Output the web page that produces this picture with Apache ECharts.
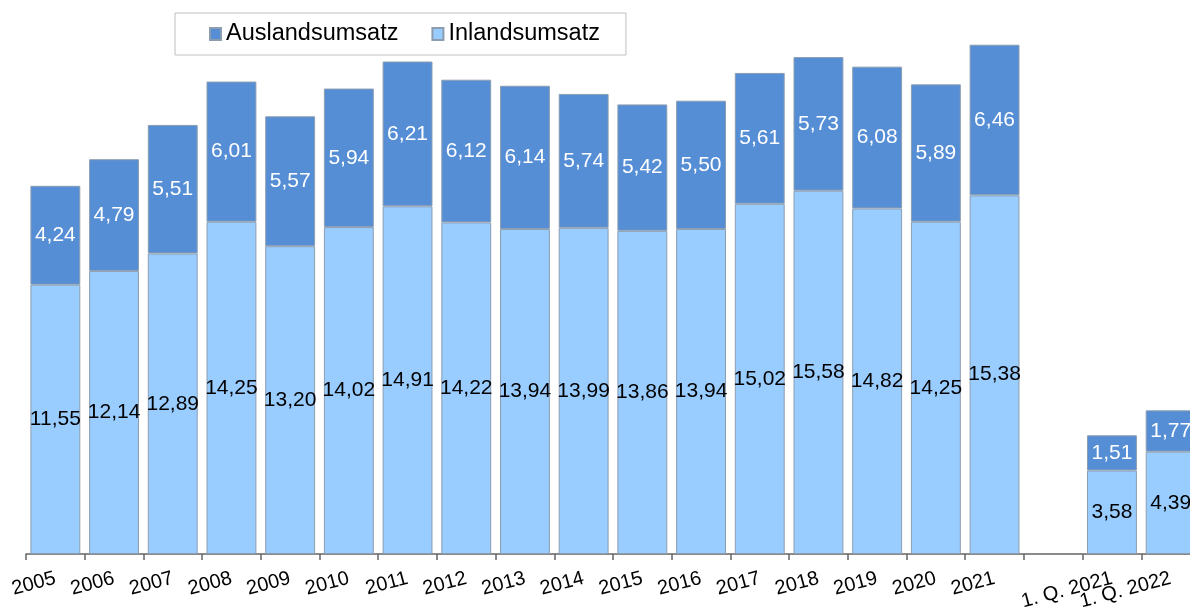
<!DOCTYPE html>
<html>
<head>
<meta charset="utf-8">
<script src="https://cdn.jsdelivr.net/npm/echarts@6/dist/echarts.min.js"></script>
<style>
html,body{margin:0;padding:0;background:#fff;overflow:hidden;width:1190px;height:614px;}
#chart{width:1200px;height:614px;}
</style>
</head>
<body>
<div id="chart"></div>
<script>
const categories = ['2005','2006','2007','2008','2009','2010','2011','2012','2013','2014','2015','2016','2017','2018','2019','2020','2021','','1. Q. 2021','1. Q. 2022'];
const inland = [11.55,12.14,12.89,14.25,13.20,14.02,14.91,14.22,13.94,13.99,13.86,13.94,15.02,15.58,14.82,14.25,15.38,null,3.58,4.39];
const ausland = [4.24,4.79,5.51,6.01,5.57,5.94,6.21,6.12,6.14,5.74,5.42,5.50,5.61,5.73,6.08,5.89,6.46,null,1.51,1.77];
const seriesNames = ['Auslandsumsatz','Inlandsumsatz'];

const fmt = p => p.value == null ? '' : p.value.toFixed(2).replace('.', ',');
const chart = echarts.init(document.getElementById('chart'));
chart.setOption({
  animation: false,
  backgroundColor: '#ffffff',
  textStyle: {fontFamily: 'Liberation Sans, Arial, sans-serif'},
  legend: {
    data: seriesNames,
    left: 175, top: 13,
    padding: [9, 26, 9, 34],
    borderColor: '#c0c0c0', borderWidth: 1,
    itemWidth: 11, itemHeight: 12, itemGap: 33,
    icon: 'rect',
    textStyle: {fontSize: 23.5, color: '#000', fontFamily: 'Liberation Sans, Arial, sans-serif'}
  },
  grid: {left: 26, top: 41, right: 0, height: 513, containLabel: false},
  xAxis: {
    type: 'category',
    data: categories,
    axisLine: {lineStyle: {color: '#666', width: 1.5}},
    axisTick: {show: true, length: 6, alignWithLabel: false, lineStyle: {color: '#666', width: 1.5}},
    axisLabel: {rotate: 15, fontSize: 20, color: '#000', margin: 24, interval: 0}
  },
  yAxis: {
    type: 'value', min: 0, max: 22,
    show: false,
    splitLine: {show: false}
  },
  series: [
    {
      name: 'Inlandsumsatz', type: 'bar', stack: 'total',
      data: inland,
      barCategoryGap: '15%',
      itemStyle: {color: '#99ccff', borderColor: '#8c9db0', borderWidth: 1},
      label: {show: true, position: 'inside', formatter: fmt, fontSize: 21, color: '#000'}
    },
    {
      name: 'Auslandsumsatz', type: 'bar', stack: 'total',
      data: ausland,
      barCategoryGap: '15%',
      itemStyle: {color: '#558ed5', borderColor: '#8c9db0', borderWidth: 1},
      label: {show: true, position: 'inside', formatter: fmt, fontSize: 21, color: '#fff'}
    }
  ]
});
</script>
</body>
</html>
